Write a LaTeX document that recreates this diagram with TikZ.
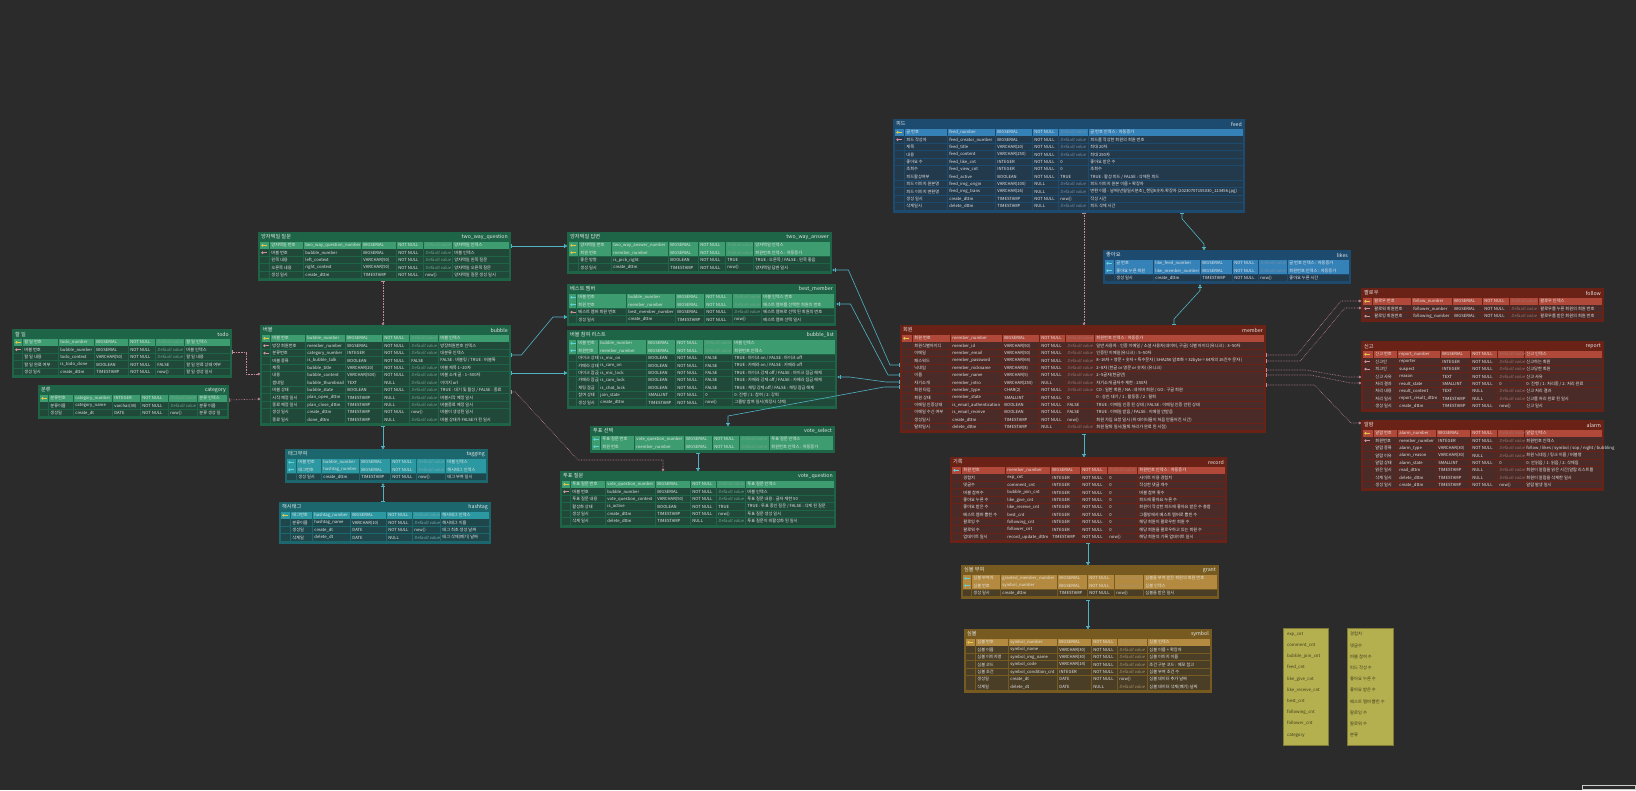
\documentclass[tikz,border=0pt]{standalone}
\usepackage{fontspec}
\newfontfamily\krfont{Noto Sans CJK KR}[AutoFakeSlant=0.2]
\usetikzlibrary{positioning, arrows.meta}

\definecolor{canvas}{HTML}{2B2B2B}
\definecolor{celltext}{HTML}{E6E6E6}
\definecolor{relcyan}{HTML}{4FB3C4}
\definecolor{relpink}{HTML}{C98A9C}
% blue
\definecolor{frameblue}{HTML}{1C4B6F}
\definecolor{pkblue}{HTML}{3582B8}
\definecolor{rowblue}{HTML}{233A4D}
\definecolor{dimblue}{HTML}{6F8FAA}
% green
\definecolor{framegreen}{HTML}{1E6447}
\definecolor{pkgreen}{HTML}{3E9D70}
\definecolor{rowgreen}{HTML}{21493A}
\definecolor{dimgreen}{HTML}{6FA58C}
% teal
\definecolor{frameteal}{HTML}{1C676D}
\definecolor{pkteal}{HTML}{2C98A2}
\definecolor{rowteal}{HTML}{1F474B}
\definecolor{dimteal}{HTML}{6FAAB0}
% red
\definecolor{framered}{HTML}{6A2216}
\definecolor{pkred}{HTML}{B0493A}
\definecolor{rowred}{HTML}{4B2B27}
\definecolor{dimred}{HTML}{A0706A}
% gold
\definecolor{framegold}{HTML}{765A1F}
\definecolor{pkgold}{HTML}{B38A3F}
\definecolor{rowgold}{HTML}{4A3E27}
\definecolor{dimgold}{HTML}{A8926A}
% keys and memo
\definecolor{keypk}{HTML}{E5C84A}
\definecolor{keyfk}{HTML}{D9909E}
\definecolor{keypf}{HTML}{5FD3D8}
\definecolor{notefill}{HTML}{B5B04F}
\definecolor{notetext}{HTML}{3B3A1C}

\newcommand\cellfont{\krfont\fontsize{4.2}{4.2}\selectfont}
\newcommand\titlefont{\krfont\fontsize{5.2}{5.2}\selectfont}
\newcommand\rng{\textasciitilde}
\def\rowh{7.4}

\tikzset{
  tablebox/.style={anchor=north west, inner sep=0pt, draw=none},
  cell/.style={anchor=west, inner sep=0pt, font=\cellfont, text=celltext},
  titletext/.style={inner sep=0pt, font=\titlefont, text=celltext},
  idrel/.style={draw=relcyan, line width=0.6pt, {Bar[width=4pt]}-{Bar[width=4pt]Circle[open,length=2.4pt,width=2.4pt]}},
  fkrel/.style={draw=relpink, line width=0.6pt, densely dotted, {Bar[width=4pt]}-{Circle[open,length=2.4pt,width=2.4pt]}},
  notebox/.style={anchor=north west, inner sep=0pt, fill=notefill, draw=notefill!70!black, line width=0.4pt},
  notelines/.style={anchor=north west, inner sep=0pt, align=left, text=notetext, font=\krfont\fontsize{4.3}{11.2}\selectfont},
}

% row background per key kind
\def\rowbgpk{pk}\def\rowbgpf{pk}\def\rowbgfk{row}\def\rowbgno{row}
\newcommand\keyglyph[1]{%
  \fill[#1] (\tbx+4.6,\rowmid) circle (1.4pt);
  \draw[#1, line width=0.7pt] (\tbx+5.6,\rowmid) -- (\tbx+9,\rowmid);}
\def\keyiconpk{\keyglyph{keypk}}
\def\keyiconpf{\keyglyph{keypf}}
\def\keyiconfk{\keyglyph{keyfk}}
\def\keyiconno{}

% table frame: name, x, y, width, rows, theme, korean title, english title
\newcommand\erdtable[8]{%
  \def\thm{#6}\edef\framecol{frame#6}\edef\dimcol{dim#6}%
  \def\tbx{#2}\def\tbw{#4}%
  \pgfmathsetmacro\tabh{12+#5*\rowh}%
  \node[tablebox, fill=\framecol, minimum width=#4pt, minimum height=\tabh pt] (#1) at (#2,#3) {};
  \node[titletext, anchor=west] (#1-kr) at (#2+3,#3+5) {#7};
  \node[titletext, anchor=east] (#1-en) at (#2+#4-3,#3+5) {#8};
  \pgfmathsetmacro\tby{#3+10}}
\newcommand\setcols[6]{\def\ca{#1}\def\cb{#2}\def\cc{#3}\def\cd{#4}\def\ce{#5}\def\cf{#6}}
% one row: key, korean, english, type, null, default, comment
\newcommand\erow[7]{%
  \edef\rowcol{\csname rowbg#1\endcsname\thm}%
  \pgfmathsetmacro\rowbot{\tby+\rowh-0.8}%
  \pgfmathsetmacro\rowmid{\tby+(\rowh-0.8)/2}%
  \fill[\rowcol] (\tbx+2,\tby) rectangle (\tbx+\tbw-2,\rowbot);
  \foreach \colx in {\ca,\cb,\cc,\cd,\ce,\cf}
    \draw[\framecol, line width=0.8pt] (\tbx+\colx-0.6,\tby) -- (\tbx+\colx-0.6,\rowbot);
  \csname keyicon#1\endcsname
  \node[cell] at (\tbx+\ca+1.2,\rowmid) {#2};
  \node[cell] at (\tbx+\cb+1.2,\rowmid) {#3};
  \node[cell] at (\tbx+\cc+1.2,\rowmid) {#4};
  \node[cell] at (\tbx+\cd+1.2,\rowmid) {#5};
  \def\argdef{#6}%
  \ifx\argdef\empty
    \node[cell, text=\dimcol, font=\cellfont\itshape] at (\tbx+\ce+1.2,\rowmid) {Default value};
  \else
    \node[cell] at (\tbx+\ce+1.2,\rowmid) {#6};
  \fi
  \node[cell] at (\tbx+\cf+1.2,\rowmid) {#7};
  \pgfmathsetmacro\tby{\tby+\rowh}}

\catcode`\_=12

\begin{document}
\begin{tikzpicture}[x=1pt, y=-1pt]
\useasboundingbox (0,0) rectangle (1636,790);
\fill[canvas] (0,0) rectangle (1636,790);

% feed
\erdtable{feed}{893}{119}{352}{11}{blue}{피드}{feed}
\setcols{12}{55}{103}{140}{166}{196}
\erow{pk}{글 번호}{feed_number}{BIGSERIAL}{NOT NULL}{}{글 번호 인덱스 : 자동증가}
\erow{fk}{피드 작성자}{feed_creator_number}{BIGSERIAL}{NOT NULL}{}{피드를 작성한 회원의 회원 번호}
\erow{no}{제목}{feed_title}{VARCHAR(20)}{NOT NULL}{}{최대 20자}
\erow{no}{내용}{feed_content}{VARCHAR(250)}{NOT NULL}{}{최대 250자}
\erow{no}{좋아요 수}{feed_like_cnt}{INTEGER}{NOT NULL}{0}{좋아요 받은 수}
\erow{no}{조회수}{feed_view_cnt}{INTEGER}{NOT NULL}{0}{조회수}
\erow{no}{피드활성여부}{feed_active}{BOOLEAN}{NOT NULL}{TRUE}{TRUE : 활성 피드 / FALSE : 삭제된 피드}
\erow{no}{피드 이미지 원본명}{feed_img_origin}{VARCHAR(100)}{NULL}{}{피드 이미지 원본 이름 + 확장자}
\erow{no}{피드 이미지 변환명}{feed_img_trans}{VARCHAR(26)}{NULL}{}{변환 이름 : 날짜(년월일시분초)_랜덤6숫자.확장자 (20230707155030_123456.jpg)}
\erow{no}{생성 일시}{create_dttm}{TIMESTAMP}{NOT NULL}{now()}{작성 시간}
\erow{no}{삭제일시}{delete_dttm}{TIMESTAMP}{NULL}{}{피드 삭제 시간}

% likes
\erdtable{likes}{1103}{250}{248}{3}{blue}{좋아요}{likes}
\setcols{12}{51}{98}{130}{156}{185}
\erow{pf}{글 번호}{like_feed_number}{BIGSERIAL}{NOT NULL}{}{글 번호 인덱스 : 자동증가}
\erow{pf}{좋아요 누른 회원}{like_member_number}{BIGSERIAL}{NOT NULL}{}{회원번호 인덱스 : 자동증가}
\erow{no}{생성 일시}{create_dttm}{TIMESTAMP}{NOT NULL}{now()}{좋아요 누른 시간}

% two_way_question
\erdtable{twq}{258}{232}{253}{5}{green}{양자택일 질문}{two_way_question}
\setcols{12}{46}{104}{139}{166}{195}
\erow{pk}{양자택일 번호}{two_way_question_number}{BIGSERIAL}{NOT NULL}{}{양자택일 인덱스}
\erow{fk}{버블 번호}{bubble_number}{BIGSERIAL}{NOT NULL}{}{버블 인덱스}
\erow{no}{왼쪽 내용}{left_context}{VARCHAR(50)}{NOT NULL}{}{양자택일 왼쪽 질문}
\erow{no}{오른쪽 내용}{right_context}{VARCHAR(50)}{NOT NULL}{}{양자택일 오른쪽 질문}
\erow{no}{생성 일시}{create_dttm}{TIMESTAMP}{NOT NULL}{now()}{양자택일 질문 생성 일시}

% two_way_answer
\erdtable{twa}{567}{232}{265}{4}{green}{양자택일 답변}{two_way_answer}
\setcols{12}{45}{102}{132}{159}{187}
\erow{pk}{양자택일 번호}{two_way_answer_number}{BIGSERIAL}{NOT NULL}{}{양자택일 인덱스}
\erow{pk}{회원 번호}{member_number}{BIGSERIAL}{NOT NULL}{}{회원번호 인덱스 : 자동증가}
\erow{no}{좋은 방향}{is_pick_right}{BOOLEAN}{NOT NULL}{TRUE}{TRUE : 오른쪽 / FALSE : 왼쪽 좋음}
\erow{no}{생성 일시}{create_dttm}{TIMESTAMP}{NOT NULL}{now()}{양자택일 답변 일시}

% best_member
\erdtable{bestm}{567}{284}{269}{4}{green}{베스트 멤버}{best_member}
\setcols{10}{60}{109}{138}{166}{195}
\erow{pf}{버블 번호}{bubble_number}{BIGSERIAL}{NOT NULL}{}{버블 인덱스 번호}
\erow{pf}{회원 번호}{member_number}{BIGSERIAL}{NOT NULL}{}{베스트 멤버를 선택한 회원의 번호}
\erow{fk}{베스트 멤버 회원 번호}{best_member_number}{BIGSERIAL}{NOT NULL}{}{베스트 멤버로 선택 된 회원의 번호}
\erow{no}{생성 일시}{create_dttm}{TIMESTAMP}{NOT NULL}{now()}{베스트 멤버 선택 일시}

% bubble_list
\erdtable{blist}{567}{330}{270}{9}{green}{버블 참여 리스트}{bubble_list}
\setcols{10}{32}{80}{109}{137}{166}
\erow{pf}{버블 번호}{bubble_number}{BIGSERIAL}{NOT NULL}{}{버블 인덱스}
\erow{pf}{회원번호}{member_number}{BIGSERIAL}{NOT NULL}{}{회원번호 인덱스}
\erow{no}{마이크 상태}{is_mic_on}{BOOLEAN}{NOT NULL}{FALSE}{TRUE : 마이크 on / FALSE : 마이크 off}
\erow{no}{카메라 상태}{is_cam_on}{BOOLEAN}{NOT NULL}{FALSE}{TRUE : 카메라 on / FALSE : 카메라 off}
\erow{no}{마이크 잠금}{is_mic_lock}{BOOLEAN}{NOT NULL}{FALSE}{TRUE : 마이크 강제 off / FALSE : 마이크 잠금 해제}
\erow{no}{카메라 잠금}{is_cam_lock}{BOOLEAN}{NOT NULL}{FALSE}{TRUE : 카메라 강제 off / FALSE : 카메라 잠금 해제}
\erow{no}{채팅 잠금}{is_chat_lock}{BOOLEAN}{NOT NULL}{FALSE}{TRUE : 채팅 강제 off / FALSE : 채팅 잠금 해제}
\erow{no}{참여 상태}{join_state}{SMALLINT}{NOT NULL}{0}{0: 진행 / 1: 참여 / 2: 강퇴}
\erow{no}{생성 일시}{create_dttm}{TIMESTAMP}{NOT NULL}{now()}{그룹방 참여 일시(퇴장시 삭제)}

% todo
\erdtable{todo}{12}{329}{220}{5}{green}{할 일}{todo}
\setcols{11}{47}{83}{117}{144}{173}
\erow{pk}{할 일 번호}{todo_number}{BIGSERIAL}{NOT NULL}{}{할 일 인덱스}
\erow{fk}{버블 번호}{bubble_number}{BIGSERIAL}{NOT NULL}{}{버블 인덱스}
\erow{no}{할 일 내용}{todo_context}{VARCHAR(50)}{NOT NULL}{}{할 일 내용}
\erow{no}{할 일 완료 여부}{is_todo_done}{BOOLEAN}{NOT NULL}{FALSE}{할 일 완료 상태 여부}
\erow{no}{생성 일시}{create_dttm}{TIMESTAMP}{NOT NULL}{now()}{할 일 생성 일시}

% category
\erdtable{category}{38}{385}{191}{3}{green}{분류}{category}
\setcols{11}{36}{75}{103}{131}{160}
\erow{pk}{분류번호}{category_number}{INTEGER}{NOT NULL}{}{분류 인덱스}
\erow{no}{분류이름}{category_name}{varchar(30)}{NOT NULL}{}{분류 이름}
\erow{no}{생성일}{create_dt}{DATE}{NOT NULL}{now()}{분류 생성 일}

% bubble
\erdtable{bubble}{260}{325}{251}{12}{green}{버블}{bubble}
\setcols{11}{46}{86}{123}{150}{179}
\erow{pk}{버블 번호}{bubble_number}{BIGSERIAL}{NOT NULL}{}{버블 인덱스}
\erow{fk}{방장 회원번호}{member_number}{BIGSERIAL}{NOT NULL}{}{방장회원번호 인덱스}
\erow{fk}{분류번호}{category_number}{INTEGER}{NOT NULL}{}{대분류 인덱스}
\erow{no}{버블 종류}{is_bubble_talk}{BOOLEAN}{NOT NULL}{FALSE}{FALSE : 버블링 / TRUE : 버블톡}
\erow{no}{제목}{bubble_title}{VARCHAR(20)}{NOT NULL}{}{버블 제목 1\rng20자}
\erow{no}{내용}{bubble_content}{VARCHAR(500)}{NOT NULL}{}{버블 소개 글 : 1\rng500자}
\erow{no}{썸네일}{bubble_thumbnail}{TEXT}{NULL}{}{이미지 url}
\erow{no}{버블 상태}{bubble_state}{BOOLEAN}{NOT NULL}{}{TRUE : 대기 및 활성 / FALSE : 종료}
\erow{no}{시작 예정 일시}{plan_open_dttm}{TIMESTAMP}{NULL}{}{버블시작 예정 일시}
\erow{no}{종료 예정 일시}{plan_close_dttm}{TIMESTAMP}{NULL}{}{버블종료 예정 일시}
\erow{no}{생성 일시}{create_dttm}{TIMESTAMP}{NOT NULL}{now()}{버블이 생성된 일시}
\erow{no}{종료 일시}{done_dttm}{TIMESTAMP}{NULL}{}{버블 상태가 FALSE가 된 일시}

% tagging
\erdtable{tagging}{285}{449}{203}{3}{teal}{태그부여}{tagging}
\setcols{12}{37}{75}{106}{132}{161}
\erow{pf}{버블 번호}{bubble_number}{BIGSERIAL}{NOT NULL}{}{버블 인덱스}
\erow{pf}{태그번호}{hashtag_number}{BIGSERIAL}{NOT NULL}{}{해시태그 인덱스}
\erow{no}{생성 일시}{create_dttm}{TIMESTAMP}{NOT NULL}{now()}{태그 부여 일시}

% hashtag
\erdtable{hashtag}{279}{502}{212}{4}{teal}{해시태그}{hashtag}
\setcols{12}{34}{72}{108}{134}{162}
\erow{pk}{태그번호}{hashtag_number}{BIGSERIAL}{NOT NULL}{}{해시태그 인덱스}
\erow{no}{분류이름}{hashtag_name}{VARCHAR(10)}{NOT NULL}{}{해시태그 이름}
\erow{no}{생성일}{create_dt}{DATE}{NOT NULL}{now()}{태그 최초 생성 날짜}
\erow{no}{삭제일}{delete_dt}{DATE}{NULL}{}{태그 삭제(폐기) 날짜}

% vote_select
\erdtable{vsel}{590}{426}{245}{2}{green}{투표 선택}{vote_select}
\setcols{11}{45}{95}{123}{150}{180}
\erow{pf}{투표 질문 번호}{vote_question_number}{BIGSERIAL}{NOT NULL}{}{투표 질문 인덱스}
\erow{pf}{회원 번호}{member_number}{BIGSERIAL}{NOT NULL}{}{회원번호 인덱스 : 자동증가}

% vote_question
\erdtable{vq}{560}{471}{276}{6}{green}{투표 질문}{vote_question}
\setcols{11}{46}{96}{131}{157}{186}
\erow{pk}{투표 질문 번호}{vote_question_number}{BIGSERIAL}{NOT NULL}{}{투표 질문 인덱스}
\erow{fk}{버블 번호}{bubble_number}{BIGSERIAL}{NOT NULL}{}{버블 인덱스}
\erow{no}{투표 질문 내용}{vote_question_context}{VARCHAR(50)}{NOT NULL}{}{투표 질문 내용 : 글자 제한 50}
\erow{no}{활성화 상태}{is_active}{BOOLEAN}{NOT NULL}{TRUE}{TRUE : 투표 중인 질문 / FALSE : 삭제 된 질문}
\erow{no}{생성 일시}{create_dttm}{TIMESTAMP}{NOT NULL}{now()}{투표 질문 생성 일시}
\erow{no}{삭제 일시}{delete_dttm}{TIMESTAMP}{NULL}{}{투표 질문이 비활성화 된 일시}

% member
\erdtable{member}{900}{325}{366}{13}{red}{회원}{member}
\setcols{13}{51}{103}{140}{166}{195}
\erow{pk}{회원 번호}{member_number}{BIGSERIAL}{NOT NULL}{}{회원번호 인덱스 : 자동증가}
\erow{no}{회원식별아이디}{member_id}{VARCHAR(50)}{NOT NULL}{}{일반 사용자 : 인증 이메일 / 소셜 사용자(네이버, 구글) 식별 아이디(유니크) : 3\rng50자}
\erow{no}{이메일}{member_email}{VARCHAR(50)}{NOT NULL}{}{인증된 이메일(유니크) : 5\rng50자}
\erow{no}{패스워드}{member_password}{VARCHAR(64)}{NOT NULL}{}{8\rng16자 + 영문 + 숫자 + 특수문자 ( SHA256 암호화 = 32byte = 64개의 16진수 문자 )}
\erow{no}{닉네임}{member_nickname}{VARCHAR(8)}{NOT NULL}{}{2\rng8자 (한글 or 영문 or 숫자) (유니크)}
\erow{no}{이름}{member_name}{VARCHAR(5)}{NOT NULL}{}{2\rng5글자(한글만)}
\erow{no}{자기소개}{member_intro}{VARCHAR(250)}{NULL}{}{자기소개 글자수 제한 : 250자}
\erow{no}{회원 타입}{member_type}{CHAR(2)}{NOT NULL}{}{CO : 일반 회원 / NA : 네이버 회원 / GO : 구글 회원}
\erow{no}{회원 상태}{member_state}{SMALLINT}{NOT NULL}{0}{0 : 승인 대기 / 1 : 활동중 / 2 : 탈퇴}
\erow{no}{이메일 인증상태}{is_email_authentication}{BOOLEAN}{NOT NULL}{FALSE}{TRUE : 이메일 인증 된 상태 / FALSE : 이메일 인증 안된 상태}
\erow{no}{이메일 수신 여부}{is_email_receive}{BOOLEAN}{NOT NULL}{FALSE}{TRUE : 이메일 받음 / FALSE : 이메일 안받음}
\erow{no}{생성일시}{create_dttm}{TIMESTAMP}{NOT NULL}{now()}{회원 가입 요청 일시 (위 데이터들이 처음 만들어진 시간)}
\erow{no}{탈퇴일시}{delete_dttm}{TIMESTAMP}{NULL}{}{회원 탈퇴 일시(탈퇴 처리가 완료 된 시점)}

% follow
\erdtable{follow}{1361}{288}{243}{3}{red}{팔로우}{follow}
\setcols{12}{51}{92}{122}{149}{178}
\erow{pk}{팔로우 번호}{follow_number}{BIGSERIAL}{NOT NULL}{}{팔로우 인덱스}
\erow{fk}{팔로워 회원번호}{follower_number}{BIGSERIAL}{NOT NULL}{}{팔로우를 누른 회원의 회원 번호}
\erow{fk}{팔로잉 회원번호}{following_number}{BIGSERIAL}{NOT NULL}{}{팔로우를 받은 회원의 회원 번호}

% report
\erdtable{report}{1361}{341}{243}{8}{red}{신고}{report}
\setcols{13}{37}{80}{110}{137}{164}
\erow{pk}{신고 번호}{report_number}{BIGSERIAL}{NOT NULL}{}{신고 인덱스}
\erow{fk}{신고인}{reporter}{INTEGER}{NOT NULL}{}{신고하는 회원}
\erow{fk}{피고인}{suspect}{INTEGER}{NOT NULL}{}{신고당한 회원}
\erow{no}{신고 사유}{reason}{TEXT}{NOT NULL}{}{신고 사유}
\erow{no}{처리 결과}{result_state}{SMALLINT}{NOT NULL}{0}{0: 진행 / 1: 처리중 / 2: 처리 완료}
\erow{no}{처리 내용}{result_content}{TEXT}{NULL}{}{신고 처리 결과}
\erow{no}{처리 일시}{report_result_dttm}{TIMESTAMP}{NULL}{}{신고를 처리 완료 된 일시}
\erow{no}{생성 일시}{create_dttm}{TIMESTAMP}{NOT NULL}{now()}{신고 일시}

% alarm
\erdtable{alarm}{1361}{420}{243}{8}{red}{알람}{alarm}
\setcols{13}{37}{76}{110}{137}{164}
\erow{pk}{알람 번호}{alarm_number}{BIGSERIAL}{NOT NULL}{}{알람 인덱스}
\erow{fk}{회원번호}{member_number}{INTEGER}{NOT NULL}{}{회원번호 인덱스}
\erow{no}{알람 종류}{alarm_type}{VARCHAR(30)}{NOT NULL}{}{follow / likes / symbol / sop / night / bubbling}
\erow{no}{알람 이유}{alarm_reason}{VARCHAR(30)}{NULL}{}{회원 닉네임 / 링크 이름 / 버블명}
\erow{no}{알람 상태}{alarm_state}{SMALLINT}{NOT NULL}{0}{0: 안읽음 / 1: 읽음 / 2: 삭제됨}
\erow{no}{읽은 일시}{read_dttm}{TIMESTAMP}{NULL}{}{회원이 알람을 읽은 시간(알람 리스트를}
\erow{no}{삭제 일시}{delete_dttm}{TIMESTAMP}{NULL}{}{회원이 알람을 삭제한 일시}
\erow{no}{생성 일시}{create_dttm}{TIMESTAMP}{NOT NULL}{now()}{알람 발생 일시}

% record
\erdtable{record}{950}{457}{277}{10}{red}{기록}{record}
\setcols{12}{56}{101}{131}{158}{188}
\erow{pf}{회원 번호}{member_number}{BIGSERIAL}{NOT NULL}{}{회원번호 인덱스 : 자동증가}
\erow{no}{경험치}{exp_cnt}{INTEGER}{NOT NULL}{0}{사이트 이용 경험치}
\erow{no}{댓글수}{comment_cnt}{INTEGER}{NOT NULL}{0}{작성한 댓글 개수}
\erow{no}{버블 참여수}{bubble_join_cnt}{INTEGER}{NOT NULL}{0}{버블 참여 횟수}
\erow{no}{좋아요 누른 수}{like_give_cnt}{INTEGER}{NOT NULL}{0}{피드에 좋아요 누른 수}
\erow{no}{좋아요 받은 수}{like_receive_cnt}{INTEGER}{NOT NULL}{0}{회원이 작성한 피드에 좋아요 받은 수 총합}
\erow{no}{베스트 멤버 뽑힌 수}{best_cnt}{INTEGER}{NOT NULL}{0}{그룹방에서 베스트 멤버로 뽑힌 수}
\erow{no}{팔로잉 수}{following_cnt}{INTEGER}{NOT NULL}{0}{해당 회원이 팔로우한 회원 수}
\erow{no}{팔로워 수}{follower_cnt}{INTEGER}{NOT NULL}{0}{해당 회원을 팔로우하고 있는 회원 수}
\erow{no}{업데이트 일시}{record_update_dttm}{TIMESTAMP}{NOT NULL}{now()}{해당 회원의 기록 업데이트 일시}

% grant
\erdtable{grant}{961}{565}{258}{3}{gold}{심볼 부여}{grant}
\setcols{11}{40}{97}{127}{154}{183}
\erow{pf}{심볼 부여자}{granted_member_number}{BIGSERIAL}{NOT NULL}{}{심볼을 부여 받은 회원의 회원 번호}
\erow{pf}{심볼 번호}{symbol_number}{BIGSERIAL}{NOT NULL}{}{심볼 인덱스}
\erow{no}{생성 일시}{create_dttm}{TIMESTAMP}{NOT NULL}{now()}{심볼을 받은 일시}

% symbol
\erdtable{symbol}{964}{629}{248}{7}{gold}{심볼}{symbol}
\setcols{12}{45}{94}{128}{154}{184}
\erow{pk}{심볼 번호}{symbol_number}{BIGSERIAL}{NOT NULL}{}{심볼 인덱스}
\erow{no}{심볼 이름}{symbol_name}{VARCHAR(30)}{NOT NULL}{}{심볼 이름 + 확장자}
\erow{no}{심볼 이미지명}{symbol_img_name}{VARCHAR(30)}{NOT NULL}{}{심볼 이미지 이름}
\erow{no}{심볼 코드}{symbol_code}{VARCHAR(14)}{NOT NULL}{}{조건 구분 코드 : 메모 참고}
\erow{no}{심볼 조건}{symbol_condition_cnt}{INTEGER}{NOT NULL}{}{심볼 부여 조건 수}
\erow{no}{생성일}{create_dt}{DATE}{NOT NULL}{now()}{심볼 데이터 추가 날짜}
\erow{no}{삭제일}{delete_dt}{DATE}{NULL}{}{심볼 데이터 삭제(폐기) 날짜}

% memo notes
\node[notebox, minimum width=45pt, minimum height=117pt] (memo1) at (1283,628) {};
\node[notelines] (memo1-text) at (1287,632) {exp_cnt\\comment_cnt\\bubble_join_cnt\\feed_cnt\\like_give_cnt\\like_receive_cnt\\best_cnt\\following_cnt\\follower_cnt\\category};
\node[notebox, minimum width=46pt, minimum height=117pt] (memo2) at (1347,628) {};
\node[notelines] (memo2-text) at (1350,632) {경험치\\댓글수\\버블 참여 수\\피드 작성 수\\좋아요 누른 수\\좋아요 받은 수\\베스트 멤버 뽑힌 수\\팔로잉 수\\팔로워 수\\분류};

% minimap corner
\node[anchor=south east, inner sep=0pt, minimum width=53pt, minimum height=4pt, draw=white!80!black, fill=canvas, line width=0.6pt] (minimap) at (1636,790) {};

% relations
\draw[fkrel] ([xshift=191pt]feed.south west) -- ([xshift=184pt]member.north west);
\draw[idrel] ([xshift=289pt]feed.south west) -- ++(0,6) -- ([xshift=101pt,yshift=6pt]likes.north west) -- ([xshift=101pt]likes.north west);
\draw[idrel] ([xshift=274pt]member.north west) -- ++(0,-6) -- ([xshift=97pt,yshift=-6pt]likes.south west) -- ([xshift=97pt]likes.south west);
\draw[idrel] ([xshift=184pt]member.south west) -- ([xshift=134pt]record.north west);
\draw[idrel] ([xshift=138pt]record.south west) -- ([xshift=127pt]grant.north west);
\draw[idrel] ([xshift=127pt]grant.south west) -- ([xshift=124pt]symbol.north west);
\draw[idrel] ([yshift=-14pt]twq.north east) -- ([yshift=-14pt]twa.north west);
\draw[fkrel] ([xshift=125pt]twq.south west) -- ([xshift=123pt]bubble.north west);
\draw[idrel] ([xshift=123pt]bubble.south west) -- ([xshift=98pt]tagging.north west);
\draw[idrel] ([xshift=104pt]hashtag.north west) -- ([xshift=98pt]tagging.south west);
\draw[idrel] ([xshift=108pt]vsel.south west) -- ([xshift=138pt]vq.north west);
\draw[fkrel] ([yshift=-67pt]bubble.north east) -- ++(4,0) -- ([xshift=18pt,yshift=11pt]vq.north west) -- ([xshift=103pt,yshift=11pt]vq.north west) -- ([xshift=103pt]vq.north west);
\draw[idrel] ([yshift=-30pt]bubble.north east) -- ++(10,0) -- ([xshift=-14pt,yshift=-33pt]bestm.north west) -- ([yshift=-33pt]bestm.north west);
\draw[idrel] ([yshift=-48pt]bubble.north east) -- ([yshift=-43pt]blist.north west);
\draw[fkrel] ([yshift=-23pt]todo.north east) -- ++(14,0) |- ([yshift=-49pt]bubble.north west);
\draw[fkrel] ([yshift=-15pt]category.north east) -- ([yshift=-74pt]bubble.north west);
\draw[idrel] ([yshift=-40pt]member.north west) -- ++(-10,0) -- ([xshift=16pt,yshift=-38pt]twa.north east) -- ([yshift=-38pt]twa.north east);
\draw[idrel] ([yshift=-50pt]member.north west) -- ++(-12,0) -- ([xshift=14pt,yshift=-20pt]bestm.north east) -- ([yshift=-20pt]bestm.north east);
\draw[idrel] ([yshift=-57pt]member.north west) -- ++(-14,0) -- ([xshift=12pt,yshift=-47pt]blist.north east) -- ([yshift=-47pt]blist.north east);
\draw[idrel] ([yshift=-62pt]member.north west) -- ++(-16,0) -- ([xshift=138pt,yshift=10pt]vsel.north west) -- ([xshift=138pt]vsel.north west);
\draw[fkrel] ([yshift=-30pt]member.north east) -- ++(30,0) -- ([xshift=-20pt,yshift=-13pt]follow.north west) -- ([yshift=-13pt]follow.north west);
\draw[fkrel] ([yshift=-36pt]member.north east) -- ++(34,0) -- ([xshift=-16pt,yshift=-20pt]follow.north west) -- ([yshift=-20pt]follow.north west);
\draw[fkrel] ([yshift=-45pt]member.north east) -- ++(40,0) -- ([xshift=-14pt,yshift=-36pt]report.north west) -- ([yshift=-36pt]report.north west);
\draw[fkrel] ([yshift=-50pt]member.north east) -- ++(44,0) -- ([xshift=-10pt,yshift=-42pt]report.north west) -- ([yshift=-42pt]report.north west);
\draw[fkrel] ([yshift=-60pt]member.north east) -- ++(48,0) -- ([xshift=-10pt,yshift=-3pt]alarm.north west) -- ([yshift=-3pt]alarm.north west);
\end{tikzpicture}
\end{document}
